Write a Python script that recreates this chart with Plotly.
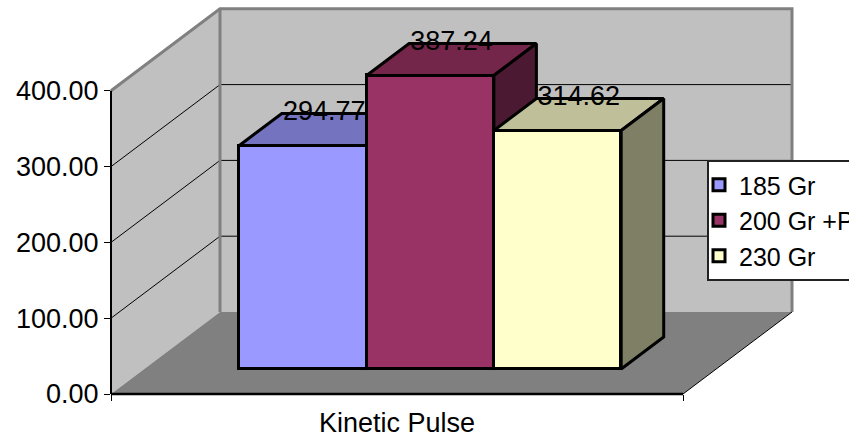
import plotly.graph_objects as go

CATEGORY = "Kinetic Pulse"
SERIES_NAMES = ["185 Gr", "200 Gr +P", "230 Gr"]
SERIES_VALUES = [294.77, 387.24, 314.62]
Y_TICKS = [0, 100, 200, 300, 400]
FRONT_COLORS = ["#9999FF", "#993366", "#FFFFCC"]
TOP_COLORS = ["#7373BF", "#732649", "#BFBF99"]
SIDE_COLORS = ["#4C4C7F", "#4C1933", "#7F7F66"]

W, H = 849, 437
PAD = 3                 # room round the frame so its edge lines are not clipped
ML, MR, MT, MB = 111 - PAD, 55 - PAD, 6 - PAD, 43 - PAD
PW, PH = W - ML - MR, H - MT - MB
PX_X = 572.0            # px per category-axis unit
PX_Y = 0.758            # px per value unit
DX = 109 / PX_X         # full chart depth in x units
DY = 82 / PX_Y          # full chart depth in y units
BAR_W = 127.3 / PX_X
BAR_D0, BAR_D1 = 0.305, 0.695
XR = [0, (PW - 2 * PAD) / PX_X]
YR = [0, (PH - 2 * PAD) / PX_Y]
XR_OUT = [-PAD / PX_X, (PW - PAD) / PX_X]
YR_OUT = [-PAD / PX_Y, (PH - PAD) / PX_Y]
DOM_X = [PAD / PW, 1 - PAD / PW]
DOM_Y = [PAD / PH, 1 - PAD / PH]
FONT = dict(family="Liberation Sans, Arial, sans-serif", size=27, color="#000")
LEGEND_FONT = dict(family="Liberation Sans, Arial, sans-serif", size=25, color="#000")
BLACK = "#000"
GREY = "#808080"
WALL = "#C0C0C0"


def poly(xs, ys, fill, line=None, width=0, xa="x", ya="y"):
    return go.Scatter(
        x=xs, y=ys, mode="lines", fill="toself" if fill else "none", fillcolor=fill,
        line=dict(color=line or "rgba(0,0,0,0)", width=width), xaxis=xa, yaxis=ya,
        hoverinfo="skip", showlegend=False, cliponaxis=False,
    )


top = max(Y_TICKS)
fig = go.Figure()
# walls and floor (hidden frame axes, slightly wider than the visible ones)
fig.add_trace(poly([0, 0, DX, DX, 0], [0, top, top + DY, DY, 0], WALL))
fig.add_trace(poly([DX, 1 + DX, 1 + DX, DX, DX], [DY, DY, top + DY, top + DY, DY], WALL))
fig.add_trace(poly([0, 1, 1 + DX, DX, 0], [0, 0, DY, DY, 0], GREY))
# gridlines
for v in Y_TICKS[1:-1]:
    fig.add_trace(poly([0, DX, 1 + DX], [v, v + DY, v + DY], None, BLACK, 1))
# wall edges
fig.add_trace(poly([0, DX, 1 + DX, 1 + DX], [top, top + DY, top + DY, DY], None, GREY, 3))
fig.add_trace(poly([DX, DX], [DY, top + DY], None, GREY, 3))
# axis lines
fig.add_trace(poly([1, 1 + DX], [0, DY], None, BLACK, 1))
fig.add_trace(poly([0, 0], [0, top], None, BLACK, 2))
fig.add_trace(poly([0, 1], [0, 0], None, BLACK, 2.5))

# bars: one overlaid subplot per series so later bars hide earlier ones
n = len(SERIES_VALUES)
x0 = 0.5 - n * BAR_W / 2
layout_extra = {}
for i, (name, val) in enumerate(zip(SERIES_NAMES, SERIES_VALUES)):
    k = i + 2
    xa, ya = f"x{k}", f"y{k}"
    left = x0 + i * BAR_W + BAR_D0 * DX
    right = left + BAR_W
    base = BAR_D0 * DY
    t = base + val
    ddx = (BAR_D1 - BAR_D0) * DX
    ddy = (BAR_D1 - BAR_D0) * DY
    fig.add_trace(go.Bar(
        x=[(left + right) / 2], y=[val], base=[base], width=[BAR_W], name=name,
        marker=dict(color=FRONT_COLORS[i], line=dict(color=BLACK, width=3)),
        xaxis=xa, yaxis=ya, hoverinfo="skip", showlegend=True,
    ))
    fig.add_trace(poly([left, right, right + ddx, left + ddx, left], [t, t, t + ddy, t + ddy, t],
                       TOP_COLORS[i], BLACK, 3, xa, ya))
    fig.add_trace(poly([right, right + ddx, right + ddx, right, right],
                       [base, base + ddy, t + ddy, t, base], SIDE_COLORS[i], BLACK, 3, xa, ya))
    if k > 2:
        layout_extra[f"xaxis{k}"] = dict(overlaying="x2", range=XR, visible=False, domain=DOM_X)
        layout_extra[f"yaxis{k}"] = dict(overlaying="y2", range=YR, visible=False, domain=DOM_Y)

# value labels on the top subplot
lx = [x0 + i * BAR_W + BAR_W / 2 + (BAR_D0 + BAR_D1) / 2 * DX for i in range(n)]
ly = [BAR_D1 * DY + v for v in SERIES_VALUES]
fig.add_trace(go.Scatter(
    x=lx, y=ly, mode="text", text=[f"{v:.2f}" for v in SERIES_VALUES],
    textposition="middle center", textfont=FONT, xaxis=f"x{n + 1}", yaxis=f"y{n + 1}",
    hoverinfo="skip", showlegend=False, cliponaxis=False,
))

fig.update_layout(
    width=W, height=H, autosize=False,
    margin=dict(l=ML, r=MR, t=MT, b=MB, pad=0, autoexpand=False),
    paper_bgcolor="#fff", plot_bgcolor="rgba(0,0,0,0)", font=FONT,
    bargap=0,
    xaxis=dict(range=XR_OUT, domain=[0, 1], visible=False),
    yaxis=dict(range=YR_OUT, domain=[0, 1], visible=False),
    xaxis2=dict(
        range=XR, domain=DOM_X, anchor="y2", tickmode="array", tickvals=[0.5], ticktext=[CATEGORY],
        ticks="outside", ticklen=5, tickcolor="rgba(0,0,0,0)", showgrid=False,
        zeroline=False, showline=False, tickfont=FONT,
        minor=dict(tickmode="array", tickvals=[0, 1], ticks="outside", ticklen=6,
                   tickwidth=1, tickcolor=BLACK, showgrid=False),
    ),
    yaxis2=dict(
        range=YR, domain=DOM_Y, anchor="x2", tickmode="array", tickvals=Y_TICKS, tickformat=".2f",
        ticks="outside", ticklen=6, tickwidth=1, tickcolor=BLACK, showgrid=False,
        zeroline=False, showline=False, tickfont=FONT,
    ),
    legend=dict(
        x=(707 - ML) / PW, y=(H - MB - 160) / PH,
        xanchor="left", yanchor="top", bgcolor="#fff", bordercolor="#222",
        borderwidth=2, font=LEGEND_FONT, traceorder="normal", indentation=-10,
    ),
    **layout_extra,
)
fig.write_html("out.html", config=dict(displayModeBar=False),
               post_script="document.body.style.margin='0';document.body.style.overflow='hidden';")
